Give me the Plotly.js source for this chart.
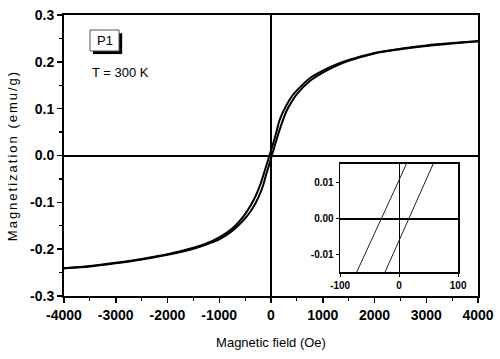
<!DOCTYPE html>
<html>
<head>
<meta charset="utf-8">
<script src="https://cdn.plot.ly/plotly-3.0.1.min.js"></script>
<style>
  html, body { margin: 0; padding: 0; background: #fff; }
  #chart { width: 500px; height: 359px; }
  .ytitle { letter-spacing: 2px; }
</style>
</head>
<body>
<div id="chart"></div>
<script>
// Descending branch (from +H to -H), upper branch
const descH = [4000, 3500, 3000, 2500, 2000, 1500, 1250, 1000, 750, 500, 400, 300, 200, 150, 100, 50, 25, 0, -25, -50, -75, -100, -150, -200, -300, -400, -500, -750, -1000, -1250, -1500, -2000, -2500, -3000, -3500, -4000];
const descM = [0.244, 0.240, 0.235, 0.228, 0.219, 0.204, 0.194, 0.181, 0.165, 0.139, 0.126, 0.108, 0.085, 0.070, 0.048, 0.029, 0.020, 0.0108, 0.0018, -0.0072, -0.016, -0.025, -0.043, -0.060, -0.087, -0.108, -0.125, -0.156, -0.175, -0.188, -0.197, -0.211, -0.221, -0.229, -0.236, -0.241];
// Ascending branch (from -H to +H), lower branch
const ascH = [-4000, -3500, -3000, -2500, -2000, -1500, -1250, -1000, -750, -500, -400, -300, -200, -150, -100, -75, -50, -25, 0, 25, 50, 75, 100, 150, 200, 300, 400, 500, 750, 1000, 1250, 1500, 2000, 2500, 3000, 3500, 4000];
const ascM = [-0.241, -0.237, -0.230, -0.222, -0.212, -0.199, -0.190, -0.179, -0.161, -0.134, -0.120, -0.102, -0.078, -0.063, -0.043, -0.034, -0.0248, -0.0154, -0.0061, 0.0032, 0.0126, 0.0219, 0.031, 0.049, 0.066, 0.095, 0.115, 0.131, 0.159, 0.177, 0.191, 0.202, 0.218, 0.227, 0.234, 0.239, 0.244];

// Tick labels
const xTickVals = [-4000, -3000, -2000, -1000, 0, 1000, 2000, 3000, 4000];
const xTickText = ['-4000', '-3000', '-2000', '-1000', '0', '1000', '2000', '3000', '4000'];
const yTickVals = [-0.3, -0.2, -0.1, 0.0, 0.1, 0.2, 0.3];
const yTickText = ['-0.3', '-0.2', '-0.1', '0.0', '0.1', '0.2', '0.3'];
const insetXTickVals = [-100, 0, 100];
const insetXTickText = ['-100', '0', '100'];
const insetYTickVals = [-0.01, 0.0, 0.01];
const insetYTickText = ['-0.01', '0.00', '0.01'];

const sampleLabel = 'P1';
const tempLabel = 'T = 300 K';
const xTitle = 'Magnetic field (Oe)';
const yTitle = 'Magnetization (emu/g)';

const FONT = 'Liberation Sans, Arial, sans-serif';

const mainLine = { color: '#000', width: 2, shape: 'spline', smoothing: 0.8 };
const insetLine = { color: '#222', width: 1 };

const traces = [
  { x: descH, y: descM, type: 'scatter', mode: 'lines', line: mainLine, xaxis: 'x', yaxis: 'y', hoverinfo: 'skip' },
  { x: ascH, y: ascM, type: 'scatter', mode: 'lines', line: mainLine, xaxis: 'x', yaxis: 'y', hoverinfo: 'skip' },
  { x: descH, y: descM, type: 'scatter', mode: 'lines', line: insetLine, xaxis: 'x2', yaxis: 'y2', hoverinfo: 'skip' },
  { x: ascH, y: ascM, type: 'scatter', mode: 'lines', line: insetLine, xaxis: 'x2', yaxis: 'y2', hoverinfo: 'skip' }
];

const layout = {
  width: 500, height: 359,
  margin: { l: 64, r: 22, t: 15, b: 63, pad: 0 },
  paper_bgcolor: '#fff', plot_bgcolor: '#fff',
  showlegend: false,
  font: { family: FONT, color: '#000' },
  xaxis: {
    domain: [0, 1],
    range: [-4000, 4000],
    tickmode: 'array', tickvals: xTickVals, ticktext: xTickText,
    ticks: 'outside', ticklen: 5, tickwidth: 1.5, tickcolor: '#000',
    minor: { ticks: 'outside', ticklen: 3, tickwidth: 1.2, tickcolor: '#000', dtick: 500, tick0: 0, showgrid: false },
    showline: true, linewidth: 2, linecolor: '#000', mirror: true,
    showgrid: false,
    zeroline: true, zerolinewidth: 1.2, zerolinecolor: '#000',
    tickfont: { family: FONT, size: 14, weight: 'bold', color: '#000' },
    title: { text: xTitle, font: { family: FONT, size: 13, color: '#000' }, standoff: 16 },
    automargin: false
  },
  yaxis: {
    domain: [0, 1],
    range: [-0.3, 0.3],
    tickmode: 'array', tickvals: yTickVals, ticktext: yTickText,
    ticks: 'outside', ticklen: 5, tickwidth: 1.5, tickcolor: '#000',
    minor: { ticks: 'outside', ticklen: 3, tickwidth: 1.2, tickcolor: '#000', dtick: 0.05, tick0: 0, showgrid: false },
    showline: true, linewidth: 2, linecolor: '#000', mirror: true,
    showgrid: false,
    zeroline: true, zerolinewidth: 2, zerolinecolor: '#000',
    tickfont: { family: FONT, size: 14, weight: 'bold', color: '#000' },
    title: { text: yTitle, font: { family: FONT, size: 13, color: '#000' }, standoff: 10 },
    automargin: false
  },
  xaxis2: {
    domain: [0.667, 0.952], anchor: 'y2',
    range: [-100, 100],
    tickmode: 'array', tickvals: insetXTickVals, ticktext: insetXTickText,
    ticks: 'outside', ticklen: 3, tickwidth: 1, tickcolor: '#000',
    showline: true, linewidth: 1.5, linecolor: '#000', mirror: true,
    showgrid: false,
    zeroline: true, zerolinewidth: 1, zerolinecolor: '#000',
    tickfont: { family: FONT, size: 10, weight: 'bold', color: '#000' }
  },
  yaxis2: {
    domain: [0.085, 0.47], anchor: 'x2',
    range: [-0.015, 0.0153],
    tickmode: 'array', tickvals: insetYTickVals, ticktext: insetYTickText,
    ticks: 'outside', ticklen: 3, tickwidth: 1, tickcolor: '#000',
    showline: true, linewidth: 1.5, linecolor: '#000', mirror: true,
    showgrid: false,
    zeroline: true, zerolinewidth: 2, zerolinecolor: '#000',
    tickfont: { family: FONT, size: 10, weight: 'bold', color: '#000' }
  },
  shapes: [
    { type: 'rect', xref: 'paper', yref: 'paper', x0: 0.070, x1: 0.1405, y0: 0.861, y1: 0.935, fillcolor: '#000', line: { width: 0 }, layer: 'above' },
    { type: 'rect', xref: 'paper', yref: 'paper', x0: 0.0628, x1: 0.1329, y0: 0.872, y1: 0.9466, fillcolor: '#fff', line: { color: '#555', width: 1 }, layer: 'above' }
  ],
  annotations: [
    { xref: 'paper', yref: 'paper', x: 0.098, y: 0.909, text: sampleLabel, showarrow: false, xanchor: 'center', yanchor: 'middle', font: { family: FONT, size: 13, color: '#000' } },
    { xref: 'paper', yref: 'paper', x: 0.0628, y: 0.794, text: tempLabel, showarrow: false, xanchor: 'left', yanchor: 'middle', font: { family: FONT, size: 13, color: '#000' } }
  ]
};

Plotly.newPlot('chart', traces, layout, { staticPlot: true, displayModeBar: false });
</script>
</body>
</html>
